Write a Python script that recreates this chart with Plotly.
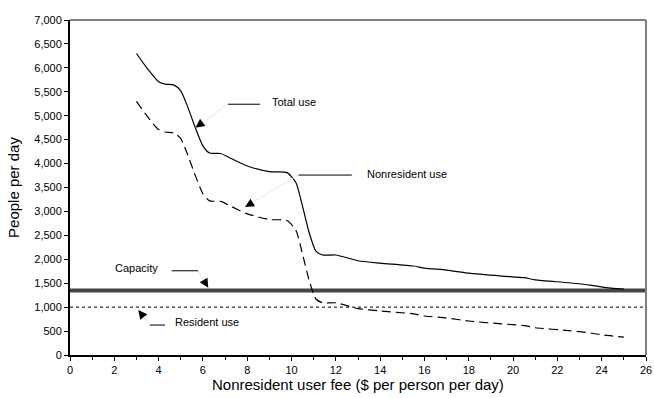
import plotly.graph_objects as go

fee = [3.0, 3.5, 4.0, 4.3, 4.7, 5.0, 5.3, 5.6, 6.0, 6.3, 6.8, 7.3, 8.0, 9.0, 9.8, 10.2, 10.5,
       10.8, 11.1, 11.4, 12.0, 13.0, 14.0, 15.5, 16.0, 17.0, 18.0, 19.5, 20.5, 21.0, 22.5,
       23.5, 24.1, 25.0]
total_use = [6300, 5980, 5710, 5660, 5640, 5520, 5200, 4820, 4370, 4220, 4210, 4100, 3950,
             3830, 3810, 3600, 3100, 2550, 2170, 2090, 2090, 1970, 1920, 1860, 1815, 1775,
             1710, 1650, 1615, 1570, 1510, 1460, 1415, 1375]
nonresident_use = [5300, 4980, 4710, 4660, 4640, 4520, 4200, 3820, 3370, 3220, 3210, 3100,
                   2950, 2830, 2810, 2600, 2100, 1550, 1170, 1090, 1090, 970, 920, 860, 815,
                   775, 710, 650, 615, 570, 510, 460, 415, 375]
capacity = 1350
resident_use = 1000
x_range = [0, 26]
y_range = [0, 7000]

FONT = "Liberation Sans, Arial, sans-serif"

fig = go.Figure()
fig.add_trace(go.Scatter(x=x_range, y=[capacity, capacity], mode="lines",
                         line=dict(color="#454545", width=4), hoverinfo="skip"))
fig.add_trace(go.Scatter(x=x_range, y=[resident_use, resident_use], mode="lines",
                         line=dict(color="black", width=1, dash="3px,3px"), hoverinfo="skip"))
fig.add_trace(go.Scatter(x=fee, y=total_use, mode="lines",
                         line=dict(color="black", width=1.2, shape="spline", smoothing=0.6)))
fig.add_trace(go.Scatter(x=fee, y=nonresident_use, mode="lines",
                         line=dict(color="black", width=1.2, dash="9px,5px", shape="spline",
                                   smoothing=0.6)))

# labels: (text, text x, text y, anchor, segment x0, x1, seg y, leader start x, tip x, tip y, head offset px)
labels = [
    ("Total use", 9.03, 5290, "left", 7.13, 8.58, 5240, 7.13, 5.66, 4750, (5.7, -4.1)),
    ("Nonresident use", 13.32, 3790, "left", 10.31, 12.72, 3760, 10.31, 7.9, 3090, (6.0, -3.6)),
    ("Capacity", 4.06, 1820, "right", 4.59, 5.79, 1760, 5.79, 6.24, 1405, (-3.6, -6.0)),
    ("Resident use", 4.66, 700, "left", 3.61, 4.29, 626, 3.61, 3.08, 940, (4.3, 5.5)),
]
shapes = []
annotations = []
for text, tx, ty, anc, sx0, sx1, sy, lx, tipx, tipy, off in labels:
    shapes.append(dict(type="line", xref="x", yref="y", x0=sx0, x1=sx1, y0=sy, y1=sy,
                       line=dict(color="black", width=1)))
    shapes.append(dict(type="line", xref="x", yref="y", x0=lx, x1=tipx, y0=sy, y1=tipy,
                       line=dict(color="#e6e6e6", width=1)))
    annotations.append(dict(x=tx, y=ty, xref="x", yref="y", text=text, showarrow=False,
                            xanchor=anc, yanchor="middle",
                            font=dict(family=FONT, size=11, color="black")))
    annotations.append(dict(x=tipx, y=tipy, xref="x", yref="y", text="", showarrow=True,
                            ax=off[0], ay=off[1], arrowhead=2, arrowsize=1.8, arrowwidth=1,
                            arrowcolor="black"))

# x-axis title as a paper annotation
annotations.append(dict(x=0.5, y=-0.088, xref="paper", yref="paper",
                        text="Nonresident user fee ($ per person per day)", showarrow=False,
                        xanchor="center", yanchor="middle",
                        font=dict(family=FONT, size=15, color="black")))

# top & right gray frame
shapes.append(dict(type="line", xref="paper", yref="paper", x0=0, x1=1, y0=1, y1=1,
                   line=dict(color="#808080", width=2)))
shapes.append(dict(type="line", xref="paper", yref="paper", x0=1, x1=1, y0=0, y1=1,
                   line=dict(color="#808080", width=2)))

fig.update_layout(
    width=654, height=398,
    margin=dict(l=70, r=8, t=20, b=43),
    paper_bgcolor="white", plot_bgcolor="white",
    showlegend=False,
    shapes=shapes, annotations=annotations,
    font=dict(family=FONT, size=11, color="black"),
)
fig.update_xaxes(range=x_range, dtick=2, tick0=0, ticks="outside", ticklen=4, tickcolor="black",
                 showgrid=False, zeroline=False, showline=True, linecolor="black", linewidth=2,
                 automargin=False, ticklabeloverflow="allow",
                 minor=dict(dtick=1, ticks="outside", ticklen=3, tickcolor="black"),
                 tickfont=dict(family=FONT, size=11))
fig.update_yaxes(range=y_range, dtick=500, tick0=0, ticks="outside", ticklen=4, tickcolor="black",
                 tickformat=",", showgrid=False, zeroline=False, showline=True, linecolor="black",
                 linewidth=2, automargin=False, tickfont=dict(family=FONT, size=11),
                 title=dict(text="People per day", font=dict(family=FONT, size=15), standoff=11))

# remove the page's default 8px body margin so the figure fills the window exactly
fig.write_html("out.html", config={"displayModeBar": False},
               post_script="document.body.style.margin='0';document.body.style.overflow='hidden';")
